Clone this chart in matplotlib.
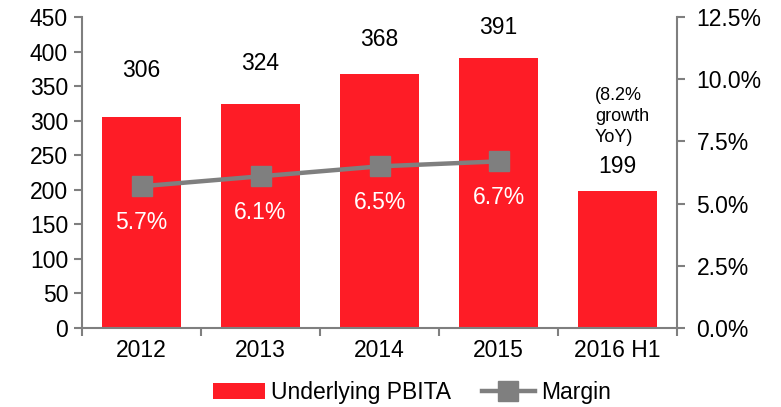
import numpy as np
import matplotlib.pyplot as plt
from matplotlib.ticker import FuncFormatter

plt.rcParams['font.family'] = ['Liberation Sans', 'DejaVu Sans']

# Datos
anios = ['2012', '2013', '2014', '2015', '2016 H1']
pbita = [306, 324, 368, 391, 199]
margen = [5.7, 6.1, 6.5, 6.7]
# altura de las etiquetas de valor (en unidades del eje izquierdo)
altura_etiqueta = [373, 383, 417, 435, 234]

rojo = '#fe1c26'
gris = '#7f7f7f'

fig = plt.figure(figsize=(7.81, 4.07), dpi=100)
ax = fig.add_axes([0.105, 0.194, 0.762, 0.764])
x = np.arange(len(anios))

ax.bar(x, pbita, width=0.66, color=rojo, label='Underlying PBITA', zorder=2)
for xi, v, h in zip(x, pbita, altura_etiqueta):
    ax.text(xi, h, str(v), ha='center', va='center', fontsize=16.5)

ax.text(3.81, 264, '(8.2%\ngrowth\nYoY)', ha='left', va='bottom', fontsize=13,
        linespacing=1.3)

ax.set_xlim(-0.5, 4.5)
ax.set_ylim(0, 450)
ax.set_yticks(range(0, 451, 50))
ax.set_xticks(x)
ax.set_xticklabels(anios)
ax.set_xticks(np.arange(-0.5, 4.6, 1), minor=True)
ax.tick_params(axis='x', which='major', length=0, pad=8, labelsize=16.5)
ax.tick_params(axis='x', which='minor', length=6, color=gris, width=1.5)
ax.tick_params(axis='y', length=6, color=gris, width=1.5, labelsize=16.5, pad=4)
for lado in ['left', 'bottom']:
    ax.spines[lado].set_color(gris)
    ax.spines[lado].set_linewidth(1.5)
ax.spines['top'].set_visible(False)
ax.spines['right'].set_visible(False)

ax2 = ax.twinx()
ax2.plot(x[:len(margen)], margen, color=gris, lw=3.2, marker='s', markersize=14,
         label='Margin', zorder=3)
for xi, m in zip(x, margen):
    ax2.annotate(f'{m}%', (xi, m), xytext=(0, -26), textcoords='offset points',
                 ha='center', va='center', color='white', fontsize=16.5)
ax2.set_ylim(0, 12.5)
ax2.set_yticks(np.arange(0, 12.6, 2.5))
ax2.yaxis.set_major_formatter(FuncFormatter(lambda v, p: f'{v:.1f}%'))
ax2.tick_params(axis='y', length=6, color=gris, width=1.5, labelsize=16.5, pad=8)
ax2.spines['right'].set_color(gris)
ax2.spines['right'].set_linewidth(1.5)
for lado in ['left', 'top', 'bottom']:
    ax2.spines[lado].set_visible(False)

h1, l1 = ax.get_legend_handles_labels()
h2, l2 = ax2.get_legend_handles_labels()
fig.legend(h1 + h2, l1 + l2, loc='center', bbox_to_anchor=(0.527, 0.035), ncol=2,
           frameon=False, fontsize=16.5, handlelength=2.3, handletextpad=0.26,
           columnspacing=1.35, borderaxespad=0)

plt.savefig('out.png', dpi=100)
